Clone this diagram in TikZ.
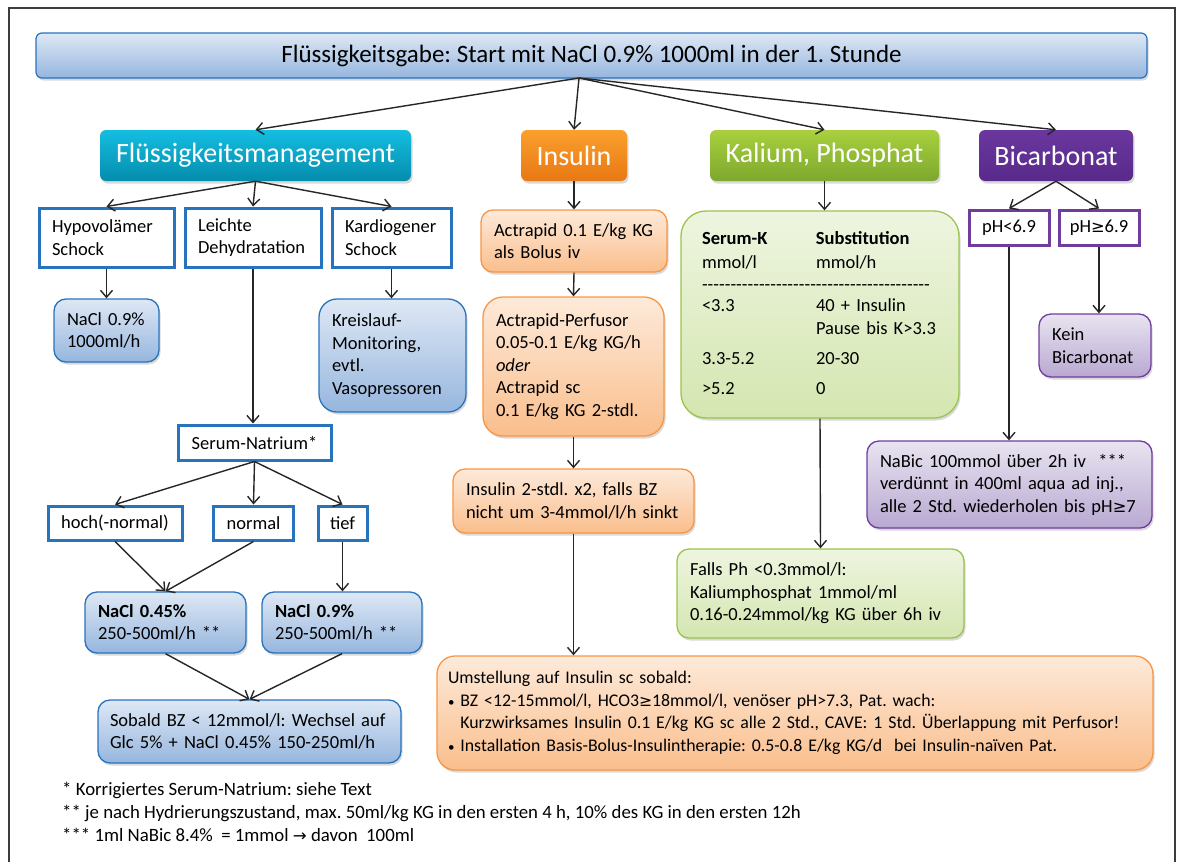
\documentclass[tikz,border=0pt]{standalone}
\usepackage{fontspec}
\setmainfont{Carlito}
\newfontfamily\symfont{DejaVu Sans}[Scale=0.88]
\usepackage{xcolor}
\usetikzlibrary{arrows.meta, shadows}

\definecolor{boxblue}{RGB}{40,115,190}
\definecolor{blueA}{RGB}{222,232,245}
\definecolor{blueB}{RGB}{150,182,222}
\definecolor{orangeline}{RGB}{247,150,70}
\definecolor{orangeA}{RGB}{253,234,218}
\definecolor{orangeB}{RGB}{250,190,140}
\definecolor{greenline}{RGB}{155,195,80}
\definecolor{greenA}{RGB}{238,245,224}
\definecolor{greenB}{RGB}{212,230,176}
\definecolor{purpleline}{RGB}{112,60,160}
\definecolor{purpleA}{RGB}{232,228,240}
\definecolor{purpleB}{RGB}{185,168,210}
\definecolor{tealA}{RGB}{20,190,225}
\definecolor{tealB}{RGB}{5,140,172}
\definecolor{insA}{RGB}{250,160,45}
\definecolor{insB}{RGB}{232,120,20}
\definecolor{kalA}{RGB}{168,208,62}
\definecolor{kalB}{RGB}{126,168,46}
\definecolor{bicA}{RGB}{106,55,158}
\definecolor{bicB}{RGB}{88,42,138}
\definecolor{framegray}{RGB}{60,60,60}

\newcommand{\smallbullet}{{\fontsize{13}{0}\selectfont\textbullet}\ }

\begin{document}
\frenchspacing
\begin{tikzpicture}[
  x=1pt, y=-1pt,
  font=\fontsize{18.5}{22.5}\selectfont,
  arr/.style={-{Straight Barb[length=7pt, width=12pt]}, line width=1.4pt, draw=black!85},
  softshadow/.style={drop shadow={opacity=0.3, shadow xshift=1.5pt, shadow yshift=-2.5pt}},
  titlebox/.style={draw=boxblue, line width=1.2pt, rounded corners=6pt, top color=blueA, bottom color=blueB, minimum width=1111pt, minimum height=45pt, font=\fontsize{25}{29}\selectfont, softshadow},
  head/.style={rounded corners=6pt, text=white, minimum height=51pt, font=\fontsize{28}{32}\selectfont, softshadow},
  choice/.style={draw=boxblue, line width=3pt, fill=white, align=left, inner xsep=13pt},
  bluebox/.style={draw=boxblue, line width=1.3pt, rounded corners=12pt, top color=blueA, bottom color=blueB, align=left, inner xsep=13pt, softshadow},
  orangebox/.style={draw=orangeline, line width=1.3pt, rounded corners=12pt, top color=orangeA, bottom color=orangeB, align=left, inner xsep=13pt, softshadow},
  greenbox/.style={draw=greenline, line width=1.3pt, rounded corners=12pt, top color=greenA, bottom color=greenB, align=left, inner xsep=13pt, softshadow},
  purplebox/.style={draw=purpleline, line width=1.3pt, rounded corners=12pt, top color=purpleA, bottom color=purpleB, align=left, inner xsep=13pt, softshadow},
  purplechoice/.style={draw=purpleline, line width=3pt, fill=white, minimum width=80pt, minimum height=35pt}
]
\useasboundingbox (0,0) rectangle (1178,862);
\draw[framegray, line width=1.5pt] (9,880) -- (9,8) -- (1175,8) -- (1175,880);

\node[titlebox] (title) at (591.5,55.5) {Flüssigkeitsgabe: Start mit NaCl 0.9\% 1000ml in der 1. Stunde};
\coordinate (fan) at (579,78);

\node[head, top color=tealA, bottom color=tealB, minimum width=311pt] (fm) at (255.5,155.5) {Flüssigkeitsmanagement};
\node[head, top color=insA, bottom color=insB, minimum width=106pt] (ins) at (574,155.5) {Insulin};
\node[head, top color=kalA, bottom color=kalB, minimum width=229pt] (kal) at (824.5,155.5) {Kalium, Phosphat};
\node[head, top color=bicA, bottom color=bicB, minimum width=154pt] (bic) at (1056,155.5) {Bicarbonat};

\node[choice, text width=109pt, minimum height=59pt] (hypo) at (106.5,237.5) {Hypovolämer\\Schock};
\node[choice, text width=110pt, minimum height=59pt] (leicht) at (253,237.5) {Leichte\\Dehydratation};
\node[choice, text width=93pt, minimum height=59pt] (kardio) at (391.5,237.5) {Kardiogener\\Schock};
\node[bluebox, text width=79pt, minimum height=63pt] (nacl1) at (106.5,330.5) {NaCl 0.9\%\\1000ml/h};
\node[bluebox, text width=121pt, minimum height=113pt, rounded corners=18pt] (kreis) at (392.5,355.5) {Kreislauf-\\Monitoring,\\evtl.\\Vasopressoren};
\node[choice, align=center, minimum width=153pt, minimum height=35pt] (serum) at (254.5,442.5) {Serum-Natrium*};
\node[choice, align=center, minimum width=134pt, minimum height=34pt] (hoch) at (115,523) {hoch(-normal)};
\node[choice, align=center, minimum width=79pt, minimum height=34pt] (normal) at (253.5,523) {normal};
\node[choice, align=center, minimum width=49pt, minimum height=34pt, inner xsep=6pt] (tief) at (342.5,523) {tief};
\node[bluebox, text width=135pt, minimum height=61pt] (nacl45) at (165.5,622.5) {\textbf{NaCl 0.45\%}\\250-500ml/h **};
\node[bluebox, text width=134pt, minimum height=61pt] (nacl09) at (342,622.5) {\textbf{NaCl 0.9\%}\\250-500ml/h **};
\node[bluebox, text width=279pt, inner xsep=12pt, minimum height=63pt] (sobald) at (249.5,731.5) {Sobald BZ < 12mmol/l: Wechsel auf\\Glc 5\% + NaCl 0.45\% 150-250ml/h};

\node[orangebox, text width=160pt, minimum height=62pt] (act1) at (574,241) {Actrapid 0.1 E/kg KG\\als Bolus iv};
\node[orangebox, text width=155pt, minimum height=139pt, rounded corners=20pt] (act2) at (573.5,366.5) {Actrapid-Perfusor\\0.05-0.1 E/kg KG/h\\\textit{oder}\\Actrapid sc\\0.1 E/kg KG 2-stdl.};
\node[orangebox, text width=215pt, minimum height=64pt] (ins2) at (573.5,501) {Insulin 2-stdl. x2, falls BZ\\nicht um 3-4mmol/l/h sinkt};
\node[orangebox, text width=694pt, inner xsep=11pt, minimum height=114pt, rounded corners=18pt, font=\fontsize{17.8}{22.5}\selectfont] (umst) at (795,713) {Umstellung auf Insulin sc sobald:\\\smallbullet BZ <12-15mmol/l, HCO3{\symfont ≥}18mmol/l, venöser pH>7.3, Pat. wach:\\\mbox{\hphantom{\smallbullet}Kurzwirksames Insulin 0.1 E/kg KG sc alle 2 Std., CAVE: 1 Std. Überlappung mit Perfusor!}\\\smallbullet Installation Basis-Bolus-Insulintherapie: 0.5-0.8 E/kg KG/d~~bei Insulin-naïven Pat.};

\node[greenbox, text width=236pt, inner xsep=21pt, minimum height=207pt, rounded corners=25pt] (ktab) at (820,314.5) {%
\begin{tabular}{@{}p{114pt}@{}l@{}}
\textbf{Serum-K} & \textbf{Substitution}\\[1.5pt]
mmol/l & mmol/h\\
\multicolumn{2}{@{}l@{}}{\hbox to 228pt{\xleaders\hbox{-}\hfill}}\\[-1.5pt]
<3.3 & 40 + Insulin\\
 & Pause bis K>3.3\\[7.5pt]
3.3-5.2 & 20-30\\[7.5pt]
>5.2 & 0
\end{tabular}};
\node[greenbox, text width=261pt, minimum height=89pt] (falls) at (820.5,593.5) {Falls Ph <0.3mmol/l:\\Kaliumphosphat 1mmol/ml\\0.16-0.24mmol/kg KG über 6h iv};

\node[purplechoice] (phlo) at (1009,227.5) {pH<6.9};
\node[purplechoice] (phhi) at (1099,227.5) {pH{\symfont ≥}6.9};
\node[purplebox, text width=86pt, minimum height=63pt] (kein) at (1095,345.5) {Kein\\Bicarbonat};
\node[purplebox, text width=259pt, minimum height=87pt] (nabic) at (1009.5,484.5) {NaBic 100mmol über 2h iv~~***\\verdünnt in 400ml aqua ad inj.,\\alle 2 Std. wiederholen bis pH{\symfont ≥}7};

\node[anchor=north west, align=left, inner sep=0pt, font=\fontsize{18.8}{23}\selectfont] (notes) at (62,782) {* Korrigiertes Serum-Natrium: siehe Text\\{}** je nach Hydrierungszustand, max. 50ml/kg KG in den ersten 4 h, 10\% des KG in den ersten 12h\\{}*** 1ml NaBic 8.4\%~~= 1mmol {\symfont →} davon~~100ml};

\draw[arr] (fan) -- (fm.north);
\draw[arr] (fan) -- (ins.north);
\draw[arr] (fan) -- (kal.north);
\draw[arr] (fan) -- (bic.north);

\draw[arr] (fm.south) -- (hypo.north);
\draw[arr] (fm.south) -- (leicht.north);
\draw[arr] (fm.south) -- (kardio.north);
\draw[arr] (hypo.south) -- (nacl1.north);
\draw[arr] (kardio.south) -- (kardio.south |- kreis.north);
\draw[arr] (leicht.south) -- (leicht.south |- serum.north);
\draw[arr] (serum.south) -- (hoch.north);
\draw[arr] (serum.south) -- (normal.north);
\draw[arr] (serum.south) -- (tief.north);
\draw[arr] (hoch.south) -- (nacl45.north);
\draw[arr] (normal.south) -- (nacl45.north);
\draw[arr] (tief.south) -- (tief.south |- nacl09.north);
\draw[arr] (nacl45.south) -- (sobald.north);
\draw[arr] (nacl09.south) -- (sobald.north);

\draw[arr] (ins.south) -- (act1.north);
\draw[arr] (act1.south) -- (act2.north);
\draw[arr] (act2.south) -- (ins2.north);
\draw[arr] (ins2.south) -- (ins2.south |- umst.north);

\draw[arr] (kal.south) -- (kal.south |- ktab.north);
\draw[arr] (ktab.south) -- (falls.north);

\draw[arr] (bic.south) -- (phlo.north);
\draw[arr] (bic.south) -- (phhi.north);
\draw[arr] (phlo.south) -- (phlo.south |- nabic.north);
\draw[arr] (phhi.south) -- (phhi.south |- kein.north);
\end{tikzpicture}
\end{document}
